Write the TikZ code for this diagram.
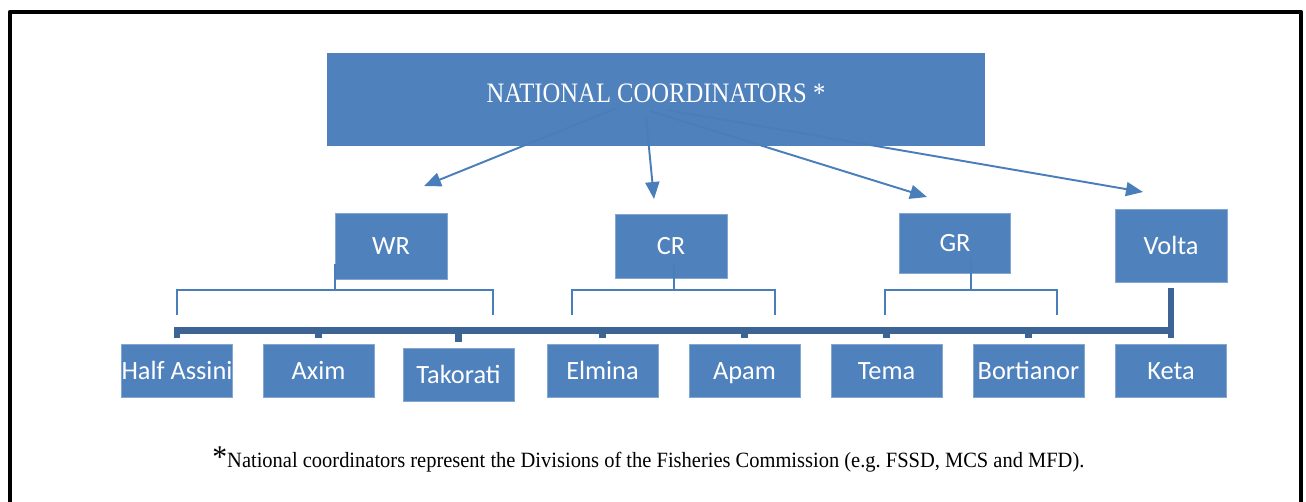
\documentclass[tikz,border=0pt]{standalone}
\usepackage{fontspec}
\setmainfont{Liberation Serif}
\newfontfamily\boxfont{Carlito}
\newfontfamily\headfont[FakeStretch=0.876]{Liberation Serif}
\newfontfamily\notefont[FakeStretch=0.94]{Liberation Serif}
\usetikzlibrary{arrows.meta}

\definecolor{boxblue}{HTML}{4F81BD}
\definecolor{linkblue}{HTML}{4A7EBB}
\definecolor{trunkblue}{HTML}{3C6596}

\begin{document}
\begin{tikzpicture}[x=0.02cm, y=-0.02cm]
  \tikzset{
    box/.style={fill=boxblue, draw=boxblue!70!white, line width=0.4pt, inner sep=0pt,
      text=white, font=\boxfont\fontsize{15}{18}\selectfont,
      text height=9.7pt, text depth=0pt, minimum width=2.22cm},
    region/.style={box},
    leaf/.style={box, minimum height=1.06cm},
    link/.style={linkblue, line width=1.1pt, -{Triangle[length=0.34cm, width=0.28cm]}},
    brk/.style={linkblue, line width=0.8pt},
    trunk/.style={trunkblue, line width=0.13cm},
  }

  \useasboundingbox (0,0) rectangle (1306,501);

  % outer frame, open at the bottom
  \draw[line width=0.09cm, line join=round] (10,503) -- (10,12) -- (1301,12) -- (1301,503);

  % top box
  \node[box, draw=none, minimum width=13.16cm, minimum height=1.86cm,
    font=\headfont\fontsize{16}{19}\selectfont, text height=0.38cm, text depth=0.28cm]
    (nat) at (656,99.5) {NATIONAL COORDINATORS *};

  % regions
  \node[region, minimum height=1.32cm, minimum width=2.24cm] (wr) at (391,246) {WR};
  \node[region, minimum height=1.28cm, minimum width=2.24cm] (cr) at (671,246) {CR};
  \node[region, minimum height=1.20cm] (gr) at (955,243) {GR};
  \node[region, minimum height=1.46cm, minimum width=2.24cm] (volta) at (1171,245.5) {Volta};

  % landing sites
  \foreach \name/\x/\y/\txt in {
    halfassini/177/370.5/Half Assini,
    axim/318.5/370.5/Axim,
    takorati/458.5/374.5/Takorati,
    elmina/602.5/370.5/Elmina,
    apam/744.5/370.5/Apam,
    tema/886.5/370.5/Tema,
    bortianor/1028.5/370.5/Bortianor,
    keta/1171/370.5/Keta
  }{
    \node[leaf] (\name) at (\x,\y) {\txt};
  }

  % arrows from the top box
  \foreach \reg/\sx/\sy/\tx/\ty in {
    wr/617/108/424/186,
    cr/646/117/654/199,
    gr/650/111/927/197,
    volta/667/110/1143/192
  }{
    \coordinate (\reg from) at (\sx,\sy);
    \coordinate (\reg to) at (\tx,\ty);
    \draw[link] (\reg from) -- (\reg to);
  }

  % brackets under the regions
  \foreach \reg/\sx/\l/\r in {
    wr/335/177/493,
    cr/674/572/775,
    gr/971/885/1057
  }{
    \coordinate (\reg l) at (\l,315);
    \coordinate (\reg r) at (\r,315);
    \coordinate (\reg t) at (\sx,290);
    \draw[brk] (\reg l) |- (\reg t) -| (\reg r);
    \draw[brk] ([yshift=0.3cm]\reg.south -| \reg t) -- (\reg t);
  }

  % trunk line over the landing sites
  \coordinate (bar) at (1171,330.5);
  \draw[trunk] ([yshift=0.12cm]halfassini.north) |- (bar);
  \draw[trunk] ([yshift=-0.12cm]volta.south) -- ([yshift=0.12cm]keta.north);
  \foreach \n in {axim, takorati, elmina, apam, tema, bortianor}
    \draw[trunk] ([yshift=0.12cm]\n.north) -- (\n.north |- bar);

  % footnote
  \node[anchor=base west, inner sep=0pt, font=\notefont\fontsize{12.4}{14}\selectfont]
    (note) at (212,467) {{\fontsize{18}{18}\selectfont *}National coordinators represent the Divisions of the Fisheries Commission (e.g.\ FSSD, MCS and MFD).};
\end{tikzpicture}
\end{document}
